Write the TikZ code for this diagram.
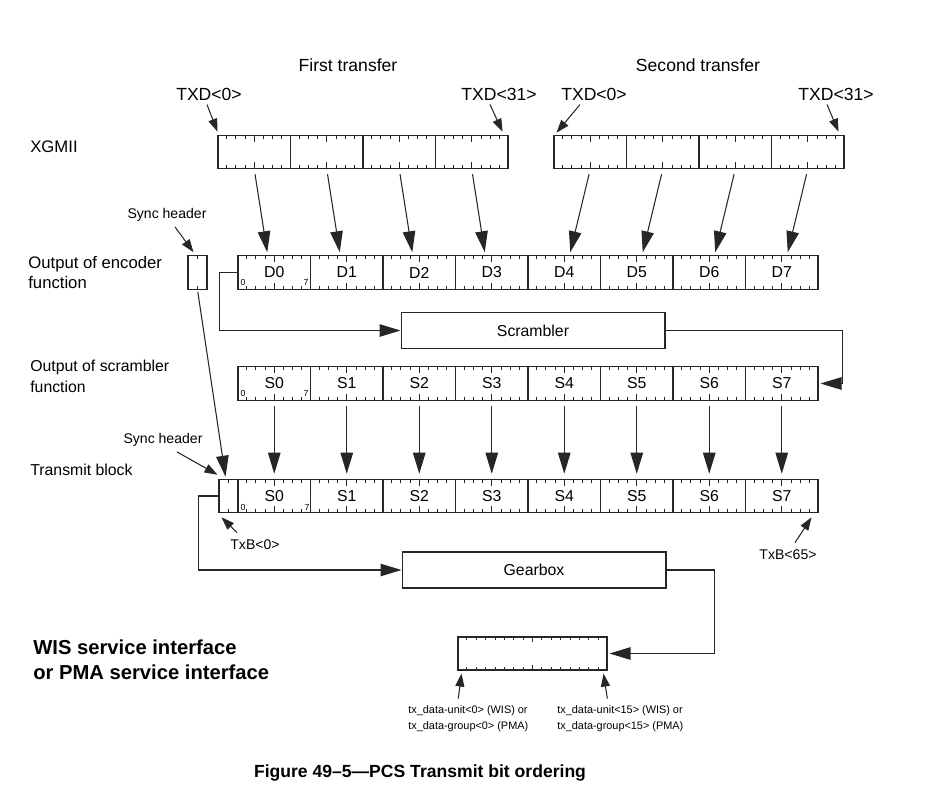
\documentclass[tikz,border=0pt]{standalone}
\usepackage{fontspec}
\setmainfont{Liberation Sans}
\usetikzlibrary{arrows.meta,calc,positioning}

\tikzset{
  bytebox/.style={draw=black!85, line width=0.6pt, minimum width=1.45cm, minimum height=0.67cm, inner sep=0pt, font=\fontsize{9}{10}\selectfont},
  syncbox/.style={draw=black!85, line width=0.6pt, minimum width=0.38cm, minimum height=0.67cm, inner sep=0pt},
  funcbox/.style={draw=black!85, line width=0.6pt, minimum width=5.28cm, minimum height=0.73cm, inner sep=0pt, font=\fontsize{9}{10}\selectfont},
  lbl/.style={inner sep=0pt, font=\fontsize{10}{11.5}\selectfont},
  rowlbl/.style={inner sep=0pt, anchor=west, align=left, font=\fontsize{9.5}{11.4}\selectfont},
  smalllbl/.style={inner sep=0pt, font=\fontsize{8}{9.5}\selectfont},
  tinylbl/.style={inner sep=0pt, anchor=west, align=left, font=\fontsize{6.2}{9.1}\selectfont},
  bitno/.style={inner sep=0pt, font=\fontsize{5}{5}\selectfont},
  boldlbl/.style={inner sep=0pt, anchor=west, align=left, font=\fontsize{11.5}{14.2}\selectfont\bfseries},
  tick/.style={black!85, line width=0.5pt},
  bigarrow/.style={black!85, line width=0.6pt, -{Triangle[length=0.42cm,width=0.25cm]}},
  smallarrow/.style={black!85, line width=0.6pt, -{Triangle[length=0.26cm,width=0.18cm]}}
}

\begin{document}
\begin{tikzpicture}[x=0.02cm, y=-0.02cm]
\useasboundingbox (0,0) rectangle (928,801);

% titles
\node[lbl] (ft) at (348,65) {First transfer};
\node[lbl] (st) at (698,65) {Second transfer};
\node[lbl] (txda) at (209,94) {TXD<0>};
\node[lbl] (txdb) at (499,94) {TXD<31>};
\node[lbl] (txdc) at (594,94) {TXD<0>};
\node[lbl] (txdd) at (836,94) {TXD<31>};

% row labels
\node[rowlbl] (xg) at (30,147) {XGMII};
\node[rowlbl] (enc) at (28,273) {Output of encoder\\function};
\node[rowlbl, font=\fontsize{9}{11.9}\selectfont] (scrl) at (30,376) {Output of scrambler\\function};
\node[rowlbl, font=\fontsize{9}{10}\selectfont] (tbl) at (30,470) {Transmit block};
\node[boldlbl] (wis) at (33,659.5) {WIS service interface\\or PMA service interface};

% XGMII
\foreach \k in {0,...,3}
  \node[bytebox] (x\k) at (254.25+72.5*\k,152) {};
\foreach \k in {4,...,7}
  \node[bytebox] (x\k) at (300.25+72.5*\k,152) {};

% encoder output
\node[syncbox] (es) at (197.5,272.5) {};
\foreach \k in {0,...,7}
  \node[bytebox] (d\k) at (274.25+72.5*\k,272.5) {D\k};

% scrambler
\node[funcbox] (scr) at (533,330.5) {Scrambler};

% scrambler output
\foreach \k in {0,...,7}
  \node[bytebox] (s\k) at (274.25+72.5*\k,383.5) {S\k};

% transmit block
\node[syncbox] (ts) at (228.5,496) {};
\foreach \k in {0,...,7}
  \node[bytebox] (t\k) at (274.25+72.5*\k,496) {S\k};

% gearbox
\node[funcbox, minimum height=0.72cm] (gear) at (534,570) {Gearbox};
\node[draw=black!85, line width=0.6pt, minimum width=2.98cm, minimum height=0.66cm, inner sep=0pt] (ob) at (532.5,653.5) {};

% bit numbers
\node[bitno] (d0lo) at (243,282) {0};
\node[bitno] (d0hi) at (306,282) {7};
\node[bitno] (s0lo) at (243,393) {0};
\node[bitno] (s0hi) at (306,393) {7};
\node[bitno] (t0lo) at (243,507) {0};
\node[bitno] (t0hi) at (307,507) {7};

% ticks
\foreach \r in {x,d,s,t}
  \foreach \k in {0,...,7}
    \foreach \i/\l in {1/0.08,2/0.08,3/0.08,4/0.14,5/0.08,6/0.08,7/0.08} {
      \draw[tick] ($(\r\k.north west)!\i/8!(\r\k.north east)$) -- ++(0cm,-\l cm);
      \draw[tick] ($(\r\k.south west)!\i/8!(\r\k.south east)$) -- ++(0cm,\l cm);
    }
\foreach \b in {es,ts} {
  \draw[tick] (\b.north) -- ++(0cm,-0.08cm);
  \draw[tick] (\b.south) -- ++(0cm,0.08cm);
}
\foreach \i/\l in {1/0.08,2/0.08,3/0.08,4/0.08,5/0.08,6/0.08,7/0.08,8/0.12,9/0.08,10/0.08,11/0.08,12/0.08,13/0.08,14/0.08,15/0.08} {
  \draw[tick] ($(ob.north west)!\i/16!(ob.north east)$) -- ++(0cm,-\l cm);
  \draw[tick] ($(ob.south west)!\i/16!(ob.south east)$) -- ++(0cm,\l cm);
}

% XGMII to encoder
\foreach \k in {0,...,3}
  \draw[bigarrow, shorten <=0.1cm] (x\k.south) -- ($(d\k.north)+(-7,-3)$);
\foreach \k in {4,...,7}
  \draw[bigarrow, shorten <=0.1cm] (x\k.south) -- ($(d\k.north)+(6,-3)$);

% scrambler output to transmit block
\foreach \k in {0,...,7}
  \draw[bigarrow, shorten <=0.1cm] (s\k.south) -- ($(t\k.north)+(0,-5)$);

% data paths
\draw[bigarrow] (d0.west) -- ++(-18,0) |- (scr.west);
\draw[bigarrow] (scr.east) -| ($(s7.east)+(24,0)$) -- ($(s7.east)+(2,0)$);
\draw[bigarrow] (ts.west) -- ++(-20,0) |- (gear.west);
\draw[bigarrow] (gear.east) -| ($(ob.east)+(107,0)$) -- ($(ob.east)+(2,0)$);
\draw[bigarrow, shorten <=0.04cm] (es.south) -- ($(ts.north)+(-3,-2)$);

% pointers
\draw[smallarrow] ($(txda.south)+(-2,4)$) -- ($(x0.north west)+(0,-3)$);
\draw[smallarrow] ($(txdb.south)+(-9,4)$) -- ($(x3.north east)+(-6,-3)$);
\draw[smallarrow] ($(txdc.south)+(-14,4)$) -- ($(x4.north west)+(3,-2)$);
\draw[smallarrow] ($(txdd.south)+(-9,4)$) -- ($(x7.north east)+(-6,-3)$);

\node[smalllbl] (sha) at (167,215) {Sync header};
\node[smalllbl] (shb) at (163,440) {Sync header};
\node[smalllbl] (txb0) at (255,545) {TxB<0>};
\node[smalllbl] (txb65) at (788,555) {TxB<65>};
\draw[smallarrow] ($(sha.south)+(8,5)$) -- ($(es.north)+(-4,-3)$);
\draw[smallarrow] ($(shb.south)+(14,5)$) -- ($(ts.north west)+(-1,-4)$);
\draw[smallarrow] ($(txb0.north west)+(7,-7)$) -- ($(ts.south west)+(3,4)$);
\draw[smallarrow] ($(txb65.north)+(7,-7)$) -- ($(t7.south east)+(-7,4)$);

\node[tinylbl] (tda) at (408,719) {tx\_data-unit<0> (WIS) or\\tx\_data-group<0> (PMA)};
\node[tinylbl] (tdb) at (557,719) {tx\_data-unit<15> (WIS) or\\tx\_data-group<15> (PMA)};
\draw[smallarrow] ($(tda.north)+(-10,-7)$) -- ($(ob.south west)+(4,3)$);
\draw[smallarrow] ($(tdb.north)+(-13,-7)$) -- ($(ob.south east)+(-4,3)$);

% caption
\node[inner sep=0pt, font=\fontsize{10}{12}\selectfont\bfseries] (cap) at (420,773) {Figure 49–5—PCS Transmit bit ordering};
\end{tikzpicture}
\end{document}
